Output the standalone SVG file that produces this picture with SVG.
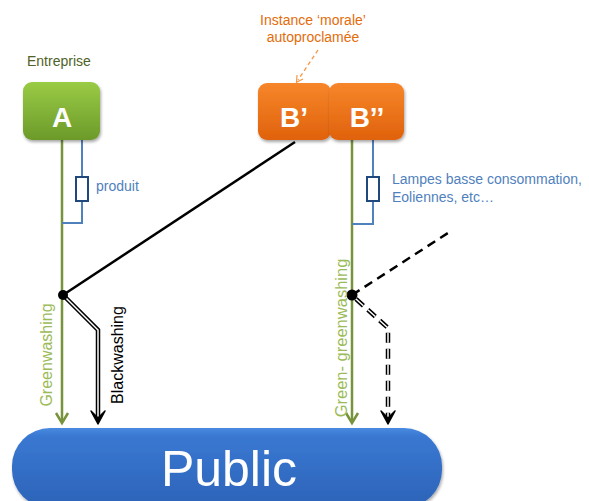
<svg xmlns="http://www.w3.org/2000/svg" width="589" height="501" viewBox="0 0 589 501">
<defs>
<linearGradient id="gA" x1="0" y1="0" x2="0" y2="1"><stop offset="0" stop-color="#9acb45"/><stop offset="1" stop-color="#6c9a2a"/></linearGradient>
<linearGradient id="gB" x1="0" y1="0" x2="0" y2="1"><stop offset="0" stop-color="#f7862a"/><stop offset="1" stop-color="#e0620c"/></linearGradient>
<linearGradient id="gP" x1="0" y1="0" x2="0" y2="1"><stop offset="0" stop-color="#4a8ae0"/><stop offset="0.1" stop-color="#3a78d2"/><stop offset="1" stop-color="#2c63b8"/></linearGradient>
<filter id="sh" x="-10%" y="-10%" width="125%" height="130%"><feDropShadow dx="1" dy="2" stdDeviation="1.8" flood-color="#000" flood-opacity="0.35"/></filter>
<marker id="ag" viewBox="0 0 10 10" refX="5" refY="9" markerWidth="10" markerHeight="10" markerUnits="userSpaceOnUse" orient="auto-start-reverse"><path d="M1,3 L5,9 L9,3" fill="none" stroke="#77933c" stroke-width="2"/></marker>
<marker id="ao" viewBox="0 0 10 10" refX="5" refY="5" markerWidth="9" markerHeight="9" markerUnits="userSpaceOnUse" orient="auto"><path d="M1,1 L8,5 L1,9" fill="none" stroke="#f79646" stroke-width="1.3"/></marker>
</defs>
<style>
.t{font-family:"Liberation Sans",Arial,sans-serif}
.lbl{font-size:14px}
.box{font-size:28px;font-weight:bold;fill:#fff;text-anchor:middle}
.gl{stroke:#77933c;stroke-width:2.5;fill:none}
.bl{stroke:#4f81bd;stroke-width:2;fill:none}
.res{stroke:#1f497d;stroke-width:2;fill:#fff}
</style>

<g id="connectors">
  <!-- A branch -->
  <line class="gl" x1="62" y1="140" x2="62" y2="421"/>
  <path d="M56,413 L62,423 L68,413" fill="none" stroke="#77933c" stroke-width="2.5"/>
  <path class="bl" d="M82,140 V177 M82,201 V223 H62"/>
  <rect class="res" x="76" y="177" width="12" height="24"/>
  <!-- B'' branch -->
  <line class="gl" x1="352" y1="140" x2="352" y2="421"/>
  <path d="M346,413 L352,423 L358,413" fill="none" stroke="#77933c" stroke-width="2.5"/>
  <path class="bl" d="M373,140 V177 M373,201 V224 H352"/>
  <rect class="res" x="367" y="177" width="12" height="24"/>
  <!-- B' to A -->
  <line x1="295" y1="142" x2="63" y2="295" stroke="#000" stroke-width="2.5"/>
  <!-- Blackwashing double line -->
  <path d="M63,295 L98,330 V418" fill="none" stroke="#000" stroke-width="4.5"/>
  <path d="M63,295 L98,330 V418" fill="none" stroke="#fff" stroke-width="1.5"/>
  <path d="M91,411 L98,424 L105,411 L98,418 Z" fill="#000" stroke="#000" stroke-width="1.5" stroke-linejoin="round"/>
  <!-- dashed to B'' -->
  <line x1="352" y1="295" x2="448" y2="233" stroke="#000" stroke-width="2.5" stroke-dasharray="9,6"/>
  <path d="M356,299 L388,328 V416" fill="none" stroke="#000" stroke-width="4.5" stroke-dasharray="10,6"/>
  <path d="M356,299 L388,328 V416" fill="none" stroke="#fff" stroke-width="1.5" stroke-dasharray="10,6"/>
  <path d="M381,411 L388,424 L395,411 L388,418 Z" fill="#000" stroke="#000" stroke-width="1.5" stroke-linejoin="round"/>
  <circle cx="63" cy="295" r="5" fill="#000"/>
  <circle cx="352" cy="295" r="5.5" fill="#000"/>
  <!-- orange annotation arrow -->
  <line x1="318" y1="50" x2="298" y2="80" stroke="#f79646" stroke-width="1.3" stroke-dasharray="4,3" marker-end="url(#ao)"/>
</g>

<g id="node-A">
  <text class="t lbl" x="27" y="66" fill="#4f6228">Entreprise</text>
  <rect x="23" y="82" width="77" height="58" rx="9" fill="url(#gA)" filter="url(#sh)"/>
  <text class="t box" x="62" y="127">A</text>
</g>
<g id="node-Bp">
  <rect x="258" y="83" width="73" height="57" rx="9" fill="url(#gB)" filter="url(#sh)"/>
  <text class="t box" x="294" y="127">B’</text>
</g>
<g id="node-Bpp">
  <rect x="329" y="83" width="75" height="57" rx="9" fill="url(#gB)" filter="url(#sh)"/>
  <text class="t box" x="367" y="127">B’’</text>
</g>
<g id="note-instance">
  <text class="t lbl" x="313" y="25" fill="#e46c0a" text-anchor="middle">Instance  ‘morale’</text>
  <text class="t lbl" x="313" y="42" fill="#e46c0a" text-anchor="middle">autoproclamée</text>
</g>
<g id="labels">
  <text class="t lbl" x="96" y="191" fill="#4f81bd">produit</text>
  <text class="t lbl" x="392" y="184" fill="#4f81bd">Lampes basse consommation,</text>
  <text class="t lbl" x="392" y="202" fill="#4f81bd">Eoliennes, etc…</text>
  <text class="t" font-size="16" fill="#9bbb59" text-anchor="middle" transform="translate(52,355) rotate(-90)">Greenwashing</text>
  <text class="t" font-size="16" fill="#000" text-anchor="middle" transform="translate(123,355) rotate(-90)">Blackwashing</text>
  <text class="t" font-size="16.5" fill="#9bbb59" text-anchor="middle" transform="translate(347,338) rotate(-90)">Green- greenwashing</text>
</g>
<g id="node-Public">
  <rect x="12" y="428" width="430" height="80" rx="38" fill="url(#gP)" filter="url(#sh)"/>
  <text class="t" x="229" y="486" font-size="50" fill="#fff" text-anchor="middle">Public</text>
</g>
</svg>
